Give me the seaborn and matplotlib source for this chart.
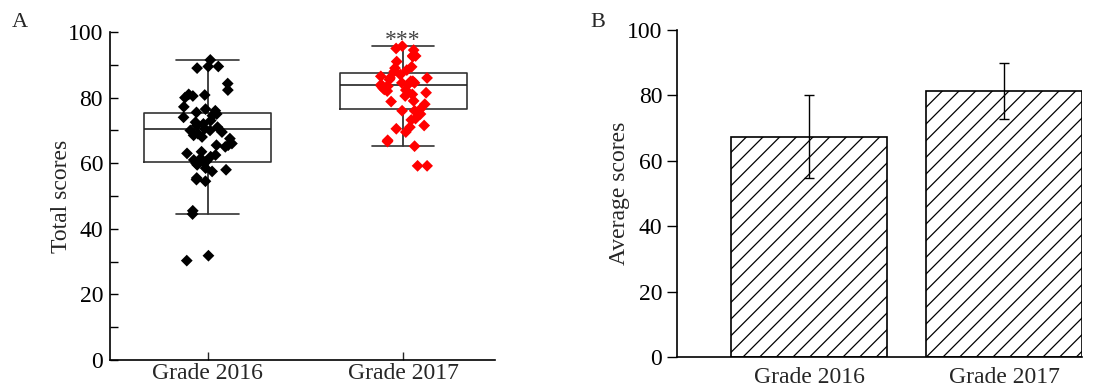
import numpy as np
import pandas as pd
import matplotlib.pyplot as plt
from matplotlib.ticker import MultipleLocator
import seaborn as sns

sns.set_theme(style="white")
plt.rcParams['font.family'] = ['Liberation Serif', 'DejaVu Serif']
plt.rcParams['hatch.linewidth'] = 0.9

# ---- data ----
grades = ['Grade 2016', 'Grade 2017']

scores_2016 = [91.5, 89.5, 89.0, 89.5, 84.3, 82.3, 81.0, 80.5, 80.0, 80.8,
               77.2, 76.5, 76.0, 75.5, 75.0, 74.5, 74.0, 73.0, 72.5, 72.0,
               71.5, 71.0, 70.5, 70.0, 70.0, 69.5, 69.0, 68.5, 68.0, 67.5,
               66.0, 65.5, 65.5, 65.0, 63.5, 63.0, 62.5, 62.0, 61.5, 61.0,
               60.5, 60.5, 60.0, 59.5, 58.5, 58.0, 57.5, 55.5, 55.0, 54.5,
               45.5, 44.5, 31.8, 30.3]
scores_2017 = [95.7, 95.0, 94.5, 92.7, 92.5, 92.8, 91.0, 89.4, 89.0, 88.4,
               88.0, 87.0, 86.5, 86.0, 86.0, 85.5, 85.0, 85.0, 84.5, 84.5,
               84.0, 84.0, 83.5, 83.5, 83.0, 83.0, 82.5, 82.3, 82.0, 81.5,
               81.0, 80.5, 79.0, 78.8, 78.0, 76.5, 76.0, 76.0, 75.0, 73.6,
               73.2, 71.5, 71.0, 70.5, 69.5, 67.0, 66.6, 65.2, 59.2, 59.2]

# box statistics as drawn in panel A
box_q1 = [60.3, 76.5]
box_med = [70.4, 83.8]
box_q3 = [75.4, 87.5]
whis_lo = [44.5, 65.2]
whis_hi = [91.4, 95.7]

# panel B means and SD
mean_scores = [67.4, 81.3]
sd_scores = [12.7, 8.6]

df = pd.DataFrame({
    'grade': ['Grade 2016'] * len(scores_2016) + ['Grade 2017'] * len(scores_2017),
    'score': scores_2016 + scores_2017,
})

FS = 17
fig = plt.figure(figsize=(10.95, 3.89), dpi=100)

# ---------------- Panel A ----------------
axA = fig.add_axes([0.1005, 0.0746, 0.3515, 0.843])
stats = []
for i, g in enumerate(grades):
    stats.append(dict(label=g, q1=box_q1[i], med=box_med[i], q3=box_q3[i],
                      whislo=whis_lo[i], whishi=whis_hi[i], fliers=[]))
axA.bxp(stats, positions=[0, 1], widths=0.65, showfliers=False,
        boxprops=dict(color='#333333', lw=1.2),
        medianprops=dict(color='#222222', lw=1.2),
        whiskerprops=dict(color='#222222', lw=1.2),
        capprops=dict(color='#333333', lw=1.2), capwidths=0.32,
        manage_ticks=False)

np.random.seed(3)
sns.stripplot(data=df, x='grade', y='score', hue='grade',
              palette=['black', '#ff0000'], marker='D', size=6,
              jitter=0.13, legend=False, ax=axA, zorder=3)

axA.set_xlim(-0.5, 1.47)
axA.set_ylim(0, 100)
axA.yaxis.set_major_locator(MultipleLocator(20))
axA.yaxis.set_minor_locator(MultipleLocator(10))
axA.tick_params(axis='y', which='both', direction='in', left=True, labelsize=FS,
                colors='black', length=6, width=1, pad=5)
axA.tick_params(axis='x', direction='in', bottom=True, length=6, width=1,
                labelsize=FS, pad=2)
axA.set_xticks([0, 1])
axA.set_xticklabels(grades)
axA.set_xlabel('')
axA.set_ylabel('Total scores', fontsize=FS, labelpad=-3)
for s in ['top', 'right']:
    axA.spines[s].set_visible(False)
for s in ['left', 'bottom']:
    axA.spines[s].set_color('black')
    axA.spines[s].set_linewidth(1.2)
axA.text(1, 97.5, '***', ha='center', va='center', fontsize=17, color='#444444')

# ---------------- Panel B ----------------
axB = fig.add_axes([0.618, 0.082, 0.370, 0.841])
sns.barplot(x=grades, y=mean_scores, errorbar=None, color='white',
            edgecolor='black', linewidth=1.2, hatch='//', width=0.8, ax=axB)
axB.errorbar([0, 1], mean_scores, yerr=sd_scores, fmt='none', ecolor='black',
             elinewidth=1, capsize=3.5, capthick=1)
axB.set_xlim(-0.68, 1.4)
axB.set_ylim(0, 100)
axB.yaxis.set_major_locator(MultipleLocator(20))
axB.tick_params(axis='y', direction='out', left=True, length=7, width=1,
                labelsize=FS, colors='black')
axB.tick_params(axis='x', bottom=False, labelsize=FS, pad=1)
axB.set_ylabel('Average scores', fontsize=FS, labelpad=-2)
for s in ['top', 'right']:
    axB.spines[s].set_visible(False)
for s in ['left', 'bottom']:
    axB.spines[s].set_color('black')
    axB.spines[s].set_linewidth(1.2)

fig.text(0.011, 0.93, 'A', fontsize=16)
fig.text(0.539, 0.93, 'B', fontsize=16)

fig.savefig('out.png', dpi=100)
